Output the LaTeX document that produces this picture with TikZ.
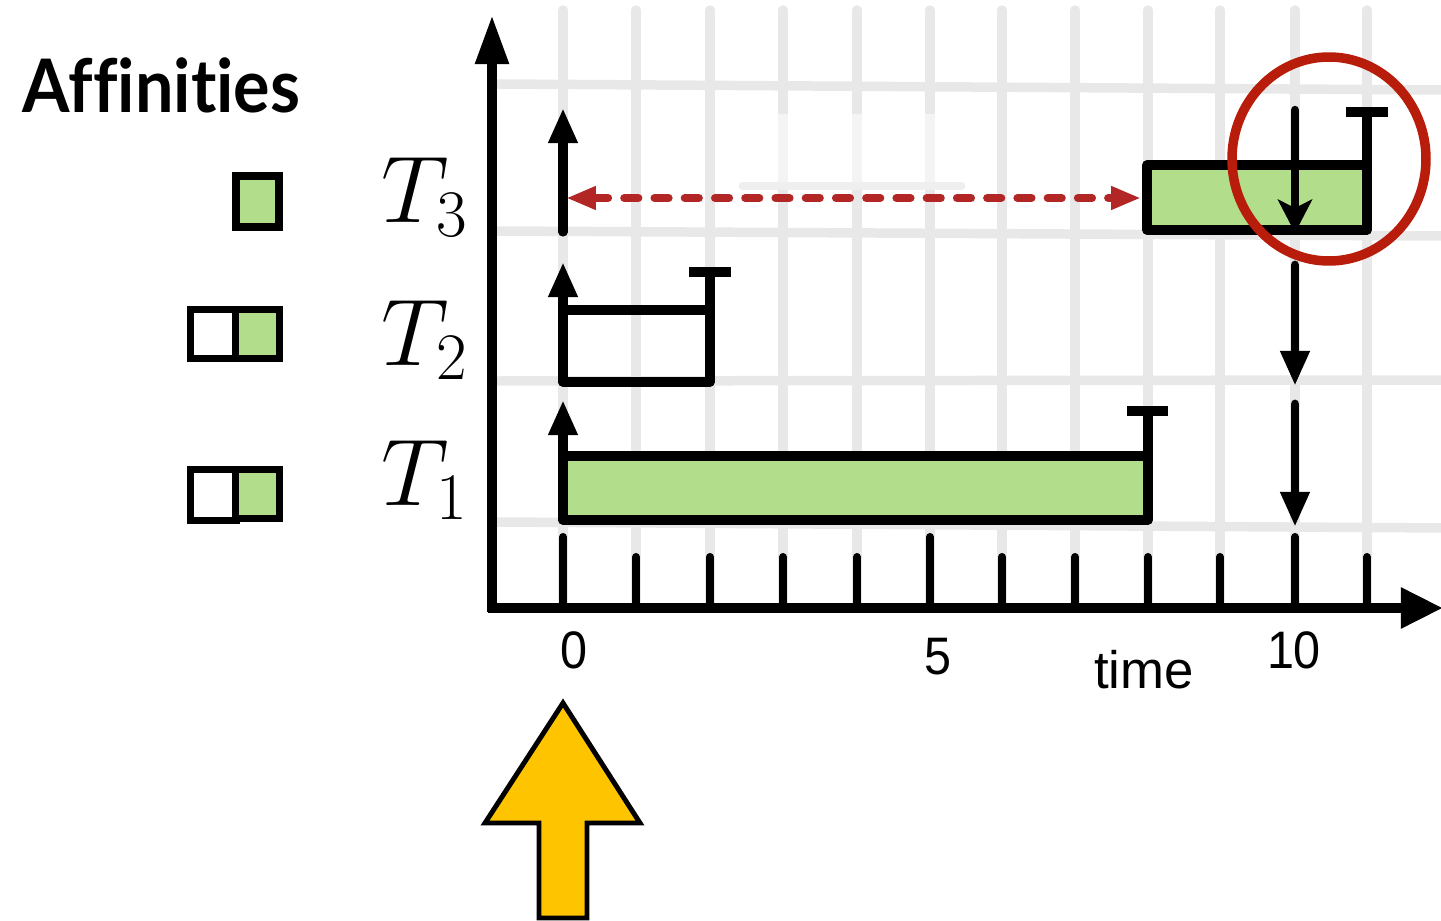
\RequirePackage{fix-cm}
\documentclass[tikz,border=0pt]{standalone}
\usepackage{graphicx}
\usepackage{fontspec}
\setsansfont{Liberation Sans}
\newfontfamily\gillfont[Ligatures=NoCommon]{Lato}
\usetikzlibrary{arrows.meta}
\definecolor{gridgray}{RGB}{232,232,232}
\definecolor{taskgreen}{RGB}{178,222,140}
\definecolor{dashred}{RGB}{178,38,38}
\definecolor{circred}{RGB}{184,28,10}
\definecolor{arrowyellow}{RGB}{255,196,0}
\begin{document}
\begin{tikzpicture}[x=0.01cm,y=-0.01cm,
  gridline/.style={gridgray,line width=2.7pt,line cap=round},
  axisline/.style={line width=2.8pt},
  tickmark/.style={line width=2.3pt,line cap=round},
  taskbox/.style={draw,line width=2.6pt,line join=round},
  legendbox/.style={draw,line width=2pt},
  release/.style={line width=2.6pt,line cap=round,-{Triangle[length=10pt,width=7.8pt]}},
  deadline/.style={line width=2.6pt},
  deadbar/.style={line width=2.9pt},
  downarrow/.style={line width=2.5pt,line cap=round,-{Triangle[length=10pt,width=7.8pt]}},
  ticklabel/.style={font=\sffamily\fontsize{15}{18}\selectfont,inner sep=0pt},
  tasklabel/.style={font=\fontsize{27}{30}\selectfont,inner sep=0pt,anchor=base west}
]
\useasboundingbox (0,0) rectangle (1441,921);

% grid
\foreach \gx in {563,636,710,783,857,930,1002,1075,1148,1220,1295,1367}
  \draw[gridline] (\gx,10) -- (\gx,604);
\draw[gridline,line cap=butt] (497,84) -- (1445,90);
\draw[gridline,line cap=butt] (497,231) -- (1445,236);
\draw[gridline,line cap=butt] (497,381) -- (1445,380);
\draw[gridline,line cap=butt] (497,522) -- (1445,528);
% faint artifact
\fill[white,opacity=0.55] (736,114) rectangle (968,182);
\draw[gridgray!70,line width=2pt,line cap=round] (742,186) -- (962,186);

% axes
\coordinate (origin) at (492,608);
\draw[axisline,-{Triangle[length=14pt,width=9pt]}] (492,612) -- (492,15);
\draw[axisline,-{Triangle[length=12pt,width=11pt]}] (488,608) -- (1443,608);

% ticks
\foreach \tx in {636,710,783,857,1002,1075,1148,1220,1367}
  \draw[tickmark] (\tx,557) -- (\tx,606);
\foreach \tx in {563,930,1295}
  \draw[tickmark] (\tx,537) -- (\tx,606);

% tick labels
\node[ticklabel] (l0) at (574,650) {\scalebox{0.92}[1]{0}};
\node[ticklabel] (l5) at (938,657) {\scalebox{0.92}[1]{5}};
\node[ticklabel] (l10) at (1294,650) {\scalebox{0.92}[1]{10}};
\node[ticklabel,anchor=base] (ltime) at (1144,688) {time};

% T1
\draw[taskbox,fill=taskgreen] (563,456) rectangle (1148,520);
\draw[release] (563,520) -- (563,400);
\draw[deadline] (1148,456) -- (1148,411);
\draw[deadbar] (1127,411) -- (1168,411);

% T2
\draw[taskbox] (563,310) rectangle (710,382);
\draw[release] (563,382) -- (563,262);
\draw[deadline] (710,310) -- (710,272);
\draw[deadbar] (689,272) -- (731,272);

% T3
\draw[taskbox,fill=taskgreen] (1147,165) rectangle (1367,230);
\draw[release] (563,232) -- (563,108);
\draw[deadline] (1367,165) -- (1367,112);
\draw[deadbar] (1346,112) -- (1388,112);

% dashed migration arrow
\draw[dashred,line width=2.3pt,line cap=round,dash pattern=on 4pt off 4.6pt,
  {Triangle[length=8.5pt,width=6.2pt]}-{Triangle[length=8.5pt,width=6.2pt]}]
  (566,198) -- (1141,198);

% down arrows at t=10
\draw[line width=2.4pt,line cap=round,-{Stealth[length=9.5pt,width=9.7pt,inset=2.4pt]}] (1295,110) -- (1295,233);
\draw[downarrow] (1295,265) -- (1295,386);
\draw[downarrow] (1295,404) -- (1295,527);

% red circle
\draw[circred,line width=2.7pt] (1329,159) ellipse [x radius=97, y radius=102];

% labels
\node[tasklabel] (t3) at (381,222) {$T_3$};
\node[tasklabel] (t2) at (381,365) {$T_2$};
\node[tasklabel] (t1) at (381,505) {$T_1$};

\node[font=\gillfont\bfseries\fontsize{21}{25}\selectfont,inner sep=0pt,anchor=base west] (aff) at (22,112) {\scalebox{0.925}[1]{Affinities}};

% legend
\draw[legendbox,fill=taskgreen] (236,176) rectangle (279,227);
\draw[legendbox,fill=white] (190.5,309.5) rectangle (236.5,358.5);
\draw[legendbox,fill=taskgreen] (235.5,309.5) rectangle (279.5,358.5);
\draw[legendbox,fill=white] (190.5,469.5) rectangle (236.5,520.5);
\draw[legendbox,fill=taskgreen] (235.5,469.5) rectangle (279.5,518.5);

% yellow arrow
\draw[fill=arrowyellow,line width=1.4pt,line join=miter]
  (563,703) -- (640,823) -- (587,823) -- (587,918) -- (539,918) -- (539,823) -- (485,823) -- cycle;
\end{tikzpicture}
\end{document}
